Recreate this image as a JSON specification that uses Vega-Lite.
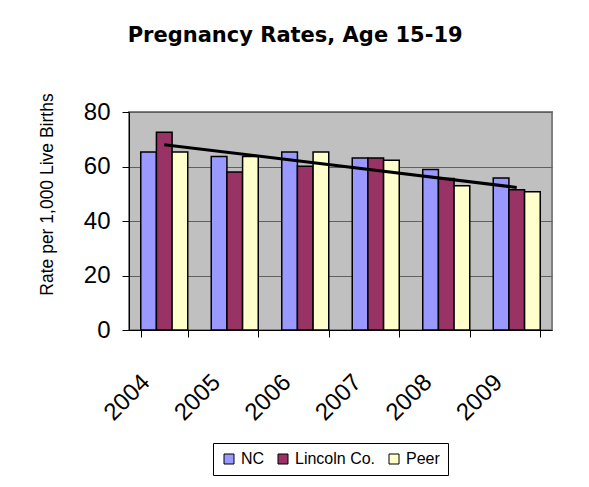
{
  "$schema": "https://vega.github.io/schema/vega-lite/v6.json",
  "padding": {"left": 38, "top": 24, "right": 30, "bottom": 5},
  "width": 423,
  "height": 218,
  "background": "white",
  "config": {
    "font": "Liberation Sans",
    "view": {"fill": "#C0C0C0", "stroke": "#808080", "strokeWidth": 2}
  },
  "title": {
    "text": "Pregnancy Rates, Age 15-19",
    "fontSize": 21,
    "fontWeight": "bold",
    "font": "DejaVu Sans",
    "color": "black",
    "anchor": "middle",
    "frame": "bounds",
    "offset": 47
  },
  "data": {
    "values": [
      {"year": 2004, "series": "NC", "value": 65.3},
      {"year": 2004, "series": "Lincoln Co.", "value": 72.6},
      {"year": 2004, "series": "Peer", "value": 65.3},
      {"year": 2005, "series": "NC", "value": 63.7},
      {"year": 2005, "series": "Lincoln Co.", "value": 58.0},
      {"year": 2005, "series": "Peer", "value": 63.7},
      {"year": 2006, "series": "NC", "value": 65.3},
      {"year": 2006, "series": "Lincoln Co.", "value": 60.1},
      {"year": 2006, "series": "Peer", "value": 65.3},
      {"year": 2007, "series": "NC", "value": 63.1},
      {"year": 2007, "series": "Lincoln Co.", "value": 63.1},
      {"year": 2007, "series": "Peer", "value": 62.3},
      {"year": 2008, "series": "NC", "value": 58.9},
      {"year": 2008, "series": "Lincoln Co.", "value": 55.6},
      {"year": 2008, "series": "Peer", "value": 52.9},
      {"year": 2009, "series": "NC", "value": 55.8},
      {"year": 2009, "series": "Lincoln Co.", "value": 51.5},
      {"year": 2009, "series": "Peer", "value": 50.7}
    ]
  },
  "layer": [
    {
      "mark": {"type": "bar", "stroke": "black", "strokeWidth": 1.5},
      "encoding": {
        "x": {
          "field": "year",
          "type": "ordinal",
          "scale": {"paddingInner": 0.3333, "paddingOuter": 0.1667},
          "axis": {
            "title": null,
            "labelAngle": -45,
            "labelFontSize": 24,
            "labelColor": "black",
            "labelFont": "Liberation Sans",
            "tickBand": "extent",
            "tickSize": 7,
            "tickColor": "black",
            "domainColor": "black",
            "labelPadding": 33,
            "labelOffset": -27,
            "grid": false
          }
        },
        "xOffset": {"field": "series", "type": "nominal", "sort": ["NC", "Lincoln Co.", "Peer"]},
        "y": {
          "field": "value",
          "type": "quantitative",
          "scale": {"domain": [0, 80]},
          "axis": {
            "title": "Rate per 1,000 Live Births",
            "titleFontSize": 17.5,
            "titleFontWeight": "normal",
            "titleColor": "black",
            "titlePadding": 27,
            "titleY": 82,
            "values": [0, 20, 40, 60, 80],
            "labelFontSize": 24,
            "labelColor": "black",
            "labelPadding": 12,
            "tickSize": 7,
            "tickColor": "black",
            "domainColor": "black",
            "grid": true,
            "gridColor": "#606060",
            "gridWidth": 1
          }
        },
        "color": {
          "field": "series",
          "type": "nominal",
          "scale": {"domain": ["NC", "Lincoln Co.", "Peer"], "range": ["#9999FF", "#993366", "#FFFFCC"]},
          "legend": {
            "title": null,
            "orient": "none",
            "legendX": 84,
            "legendY": 331,
            "direction": "horizontal",
            "symbolType": "square",
            "symbolSize": 100,
            "symbolStrokeColor": "black",
            "symbolStrokeWidth": 1,
            "symbolOpacity": 1,
            "labelFontSize": 16,
            "labelColor": "black",
            "strokeColor": "black",
            "padding": 8,
            "columnPadding": 10
          }
        }
      }
    },
    {
      "transform": [
        {"filter": "datum.series === 'Lincoln Co.'"},
        {"regression": "value", "on": "year"}
      ],
      "mark": {"type": "line", "color": "black", "strokeWidth": 3},
      "encoding": {
        "x": {"field": "year", "type": "ordinal"},
        "y": {"field": "value", "type": "quantitative"}
      }
    }
  ]
}
